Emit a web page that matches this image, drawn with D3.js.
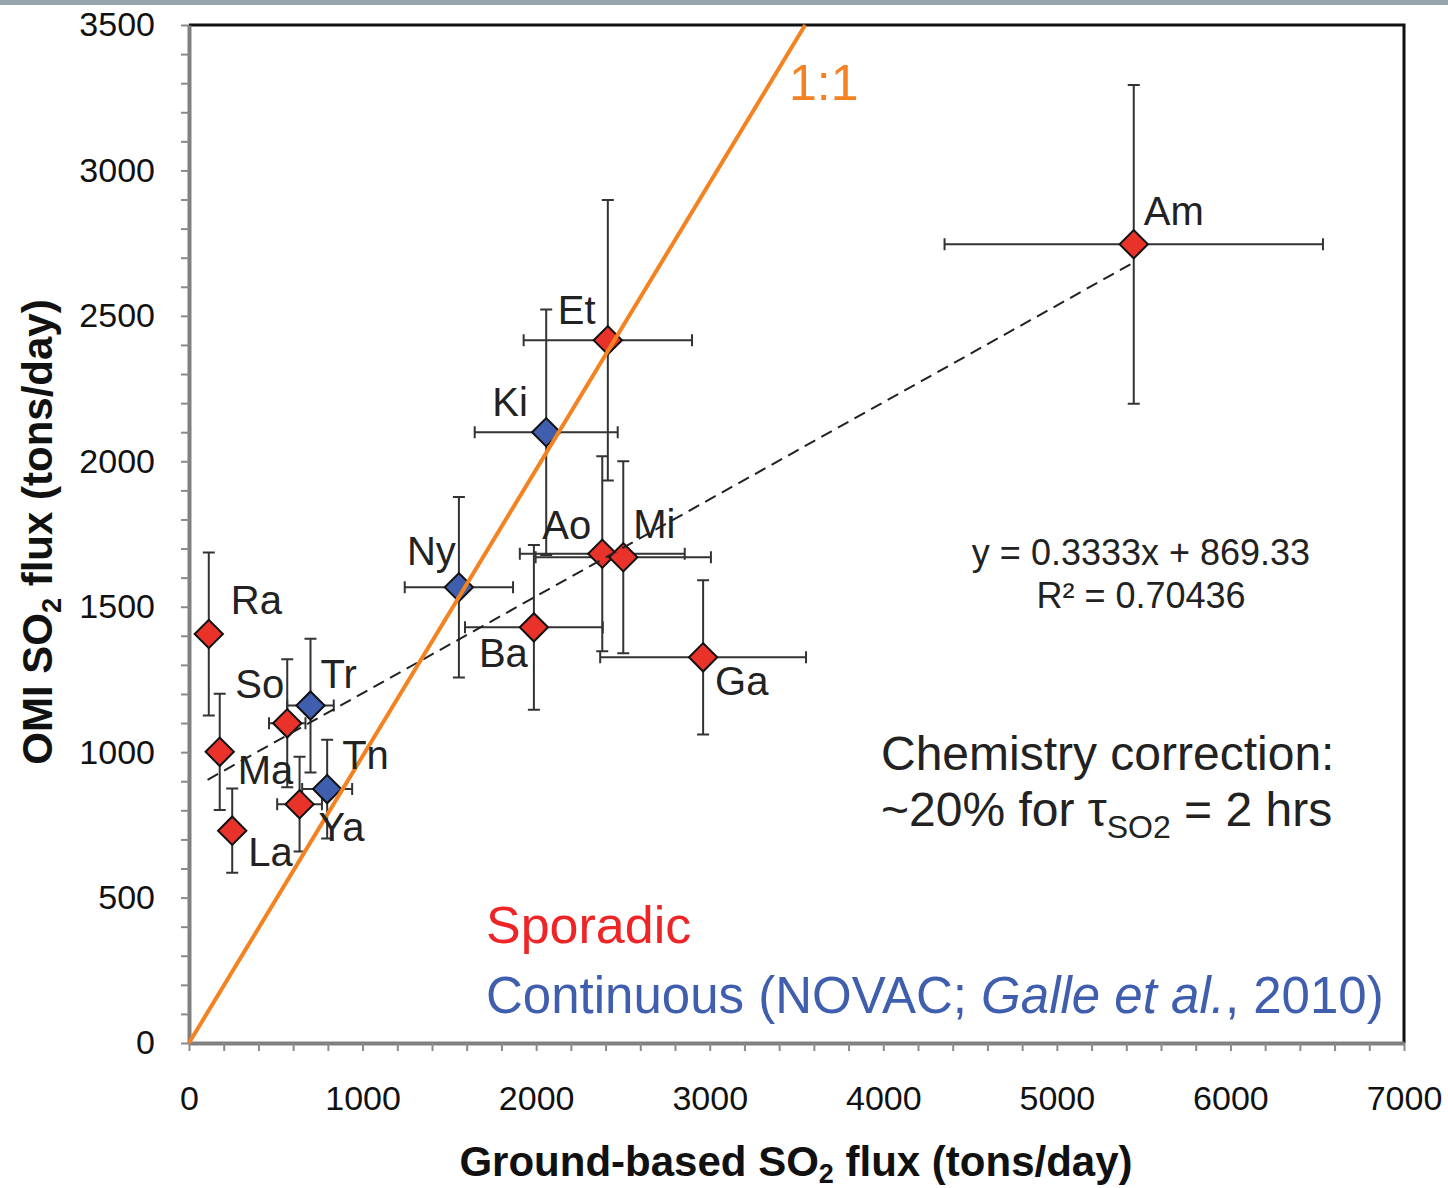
<!DOCTYPE html>
<html>
<head>
<meta charset="utf-8">
<script src="https://cdn.jsdelivr.net/npm/d3@7"></script>
<style>
  body { margin: 0; background: #fff; }
  svg { display: block; font-family: "Liberation Sans", Arial, sans-serif; }
</style>
</head>
<body>
<div id="chart"></div>
<script>
// volcanoes measured sporadically (red)
const sporadicNames = ['Ra', 'Ma', 'La', 'So', 'Ya', 'Ba', 'Ao', 'Et', 'Mi', 'Ga', 'Am'];
const sporadicX = [114, 177, 249, 566, 637, 1987, 2381, 2413, 2502, 2962, 5443];
const sporadicY = [1406, 1001, 730, 1099, 821, 1429, 1682, 2416, 1670, 1326, 2746];
const sporadicXErr = [0, 0, 0, 105, 129, 397, 475, 485, 505, 593, 1090];
const sporadicYErr = [280, 200, 145, 220, 163, 283, 335, 482, 330, 265, 548];

// continuous NOVAC volcanoes (blue)
const continuousNames = ['Tr', 'Tn', 'Ny', 'Ki'];
const continuousX = [700, 796, 1555, 2058];
const continuousY = [1160, 873, 1567, 2100];
const continuousXErr = [134, 144, 312, 412];
const continuousYErr = [230, 170, 310, 422];

// regression y = 0.3333x + 869.33 drawn between these x values
const trendSlope = 0.3333;
const trendIntercept = 869.33;
const trendRange = [107, 5443];

// the "1:1" line as drawn in the figure
const oneToOne = [[0, 0], [3550, 3500]];

const xTicks = [0, 1000, 2000, 3000, 4000, 5000, 6000, 7000];
const yTicks = [0, 500, 1000, 1500, 2000, 2500, 3000, 3500];

const width = 1448;
const height = 1188;
const plot = { left: 189, right: 1404, top: 25, bottom: 1043 };

const RED = '#E8322A';
const BLUE = '#3F5EAE';
const ORANGE = '#F58220';

const svg = d3.select('#chart')
    .append('svg')
    .attr('width', width)
    .attr('height', height);

// thin photo strip along the top edge
svg.append('rect')
    .attr('x', 0).attr('y', 0)
    .attr('width', width).attr('height', 5)
    .attr('fill', '#98a4ac');

const x = d3.scaleLinear().domain([0, 7000]).range([plot.left, plot.right]);
const y = d3.scaleLinear().domain([0, 3500]).range([plot.bottom, plot.top]);

// frame: top and right in black
svg.append('path')
    .attr('d', `M${plot.left},${plot.top}H${plot.right}V${plot.bottom}`)
    .attr('fill', 'none')
    .attr('stroke', '#111')
    .attr('stroke-width', 3);

// axes with minor ticks
const yAxis = d3.axisLeft(y)
    .tickValues(d3.range(0, 3501, 100))
    .tickFormat(d => yTicks.includes(d) ? d : '')
    .tickSize(8)
    .tickSizeOuter(0)
    .tickPadding(26);

const xAxis = d3.axisBottom(x)
    .tickValues(d3.range(0, 7001, 200))
    .tickFormat(d => xTicks.includes(d) ? d : '')
    .tickSize(8)
    .tickSizeOuter(0)
    .tickPadding(35);

[svg.append('g').attr('transform', `translate(${plot.left},0)`).call(yAxis),
 svg.append('g').attr('transform', `translate(0,${plot.bottom})`).call(xAxis)]
    .forEach(g => {
        g.select('.domain').attr('stroke', '#808080').attr('stroke-width', 4);
        g.selectAll('.tick line').attr('stroke', '#8a8a8a').attr('stroke-width', 2);
        g.selectAll('.tick text')
            .attr('font-family', '"Liberation Sans", Arial, sans-serif')
            .attr('font-size', 34)
            .attr('fill', '#111');
    });

// axis titles
const yTitle = svg.append('text')
    .attr('transform', 'translate(52,532) rotate(-90)')
    .attr('text-anchor', 'middle')
    .attr('font-size', 42)
    .attr('font-weight', 'bold')
    .attr('fill', '#111');
yTitle.append('tspan').text('OMI SO');
yTitle.append('tspan').text('2').attr('font-size', 27).attr('dy', 9);
yTitle.append('tspan').text(' flux (tons/day)').attr('dy', -9);

const xTitle = svg.append('text')
    .attr('x', 796)
    .attr('y', 1176)
    .attr('text-anchor', 'middle')
    .attr('font-size', 42)
    .attr('font-weight', 'bold')
    .attr('fill', '#111');
xTitle.append('tspan').text('Ground-based SO');
xTitle.append('tspan').text('2').attr('font-size', 27).attr('dy', 7);
xTitle.append('tspan').text(' flux (tons/day)').attr('dy', -7);

// assemble points
const points = [];
sporadicNames.forEach((n, i) => points.push({
    name: n, x: sporadicX[i], y: sporadicY[i],
    xe: sporadicXErr[i], ye: sporadicYErr[i], color: RED
}));
continuousNames.forEach((n, i) => points.push({
    name: n, x: continuousX[i], y: continuousY[i],
    xe: continuousXErr[i], ye: continuousYErr[i], color: BLUE
}));

// error bars
const cap = 6;
const bars = svg.append('g')
    .attr('stroke', '#333')
    .attr('stroke-width', 2)
    .attr('fill', 'none');

bars.selectAll('path.yerr')
    .data(points.filter(d => d.ye > 0))
    .join('path')
    .attr('class', 'yerr')
    .attr('d', d => {
        const cx = x(d.x), y0 = y(d.y - d.ye), y1 = y(d.y + d.ye);
        return `M${cx},${y0}V${y1}M${cx - cap},${y0}H${cx + cap}M${cx - cap},${y1}H${cx + cap}`;
    });

bars.selectAll('path.xerr')
    .data(points.filter(d => d.xe > 0))
    .join('path')
    .attr('class', 'xerr')
    .attr('d', d => {
        const cy = y(d.y), x0 = x(d.x - d.xe), x1 = x(d.x + d.xe);
        return `M${x0},${cy}H${x1}M${x0},${cy - cap}V${cy + cap}M${x1},${cy - cap}V${cy + cap}`;
    });

// diamond markers
const diamond = d3.symbol().type(d3.symbolSquare).size(400);
svg.append('g')
    .selectAll('path')
    .data(points)
    .join('path')
    .attr('d', diamond)
    .attr('transform', d => `translate(${x(d.x)},${y(d.y)}) rotate(45)`)
    .attr('fill', d => d.color)
    .attr('stroke', '#111')
    .attr('stroke-width', 2);

// regression line
svg.append('line')
    .attr('x1', x(trendRange[0]))
    .attr('y1', y(trendSlope * trendRange[0] + trendIntercept))
    .attr('x2', x(trendRange[1]))
    .attr('y2', y(trendSlope * trendRange[1] + trendIntercept))
    .attr('stroke', '#222')
    .attr('stroke-width', 2)
    .attr('stroke-dasharray', '12,7');

// 1:1 line
svg.append('path')
    .datum(oneToOne)
    .attr('d', d3.line().x(d => x(d[0])).y(d => y(d[1])))
    .attr('stroke', ORANGE)
    .attr('stroke-width', 4)
    .attr('fill', 'none');

svg.append('text')
    .attr('x', 789).attr('y', 100)
    .attr('font-size', 50)
    .attr('fill', ORANGE)
    .text('1:1');

// volcano labels, offsets in pixels from the marker
const labelOffset = {
    Ra: [22, -20], Ma: [18, 32], La: [16, 35], So: [-52, -25], Ya: [19, 37],
    Ba: [-55, 40], Ao: [-60, -15], Et: [-50, -16], Mi: [10, -19], Ga: [12, 38],
    Am: [10, -19], Tr: [10, -18], Tn: [15, -20], Ny: [-52, -22], Ki: [-54, -16]
};

svg.append('g')
    .selectAll('text')
    .data(points)
    .join('text')
    .attr('x', d => x(d.x) + labelOffset[d.name][0])
    .attr('y', d => y(d.y) + labelOffset[d.name][1])
    .attr('font-size', 40)
    .attr('fill', '#222')
    .text(d => d.name);

// regression equation
svg.append('text')
    .attr('x', 1141).attr('y', 565)
    .attr('text-anchor', 'middle')
    .attr('font-size', 36)
    .attr('fill', '#222')
    .text('y = 0.3333x + 869.33');
svg.append('text')
    .attr('x', 1141).attr('y', 608)
    .attr('text-anchor', 'middle')
    .attr('font-size', 36)
    .attr('fill', '#222')
    .text('R² = 0.70436');

// chemistry note
svg.append('text')
    .attr('x', 881).attr('y', 770)
    .attr('font-size', 48)
    .attr('fill', '#222')
    .text('Chemistry correction:');
const note = svg.append('text')
    .attr('x', 881).attr('y', 826)
    .attr('font-size', 48)
    .attr('fill', '#222');
note.append('tspan').text('~20% for τ');
note.append('tspan').text('SO2').attr('font-size', 32).attr('dy', 12);
note.append('tspan').text(' = 2 hrs').attr('dy', -12);

// legend text
svg.append('text')
    .attr('x', 486).attr('y', 943)
    .attr('font-size', 52)
    .attr('fill', '#EE2427')
    .text('Sporadic');
const cont = svg.append('text')
    .attr('x', 486).attr('y', 1013)
    .attr('font-size', 51)
    .attr('fill', BLUE);
cont.append('tspan').text('Continuous (NOVAC; ');
cont.append('tspan').text('Galle et al.').attr('font-style', 'italic');
cont.append('tspan').text(', 2010)');
</script>
</body>
</html>
